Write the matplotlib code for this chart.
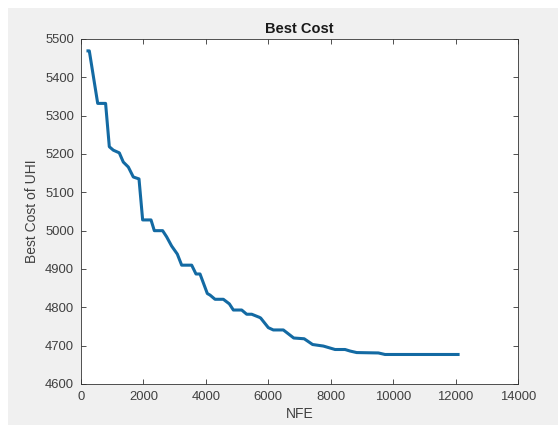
import matplotlib.pyplot as plt
from matplotlib.patches import Rectangle

# best cost trace
nfe = [224, 266, 535, 788, 907, 1035, 1227, 1355, 1516, 1676, 1858, 1975, 2243,
       2349, 2615, 2743, 2903, 3085, 3225, 3546, 3684, 3813, 4047, 4133, 4294,
       4560, 4753, 4881, 5148, 5308, 5469, 5713, 5757, 6001, 6161, 6482, 6815,
       7150, 7420, 7764, 8139, 8459, 8619, 8833, 9527, 9740, 12080]
cost = [5469, 5469, 5332, 5332, 5219, 5210, 5203, 5179, 5166, 5140, 5135, 5028, 5028,
        5000, 5000, 4984, 4960, 4939, 4910, 4910, 4887, 4887, 4836, 4832, 4821,
        4821, 4809, 4793, 4793, 4782, 4782, 4774, 4772, 4747, 4741, 4741, 4720,
        4718, 4703, 4699, 4690, 4690, 4686, 4682, 4681, 4677, 4677]

xticks = [0, 2000, 4000, 6000, 8000, 10000, 12000, 14000]
yticks = [4600, 4700, 4800, 4900, 5000, 5100, 5200, 5300, 5400, 5500]

plt.rcParams['font.family'] = ['Liberation Sans', 'DejaVu Sans']

fig = plt.figure(figsize=(5.58, 4.25), dpi=100)
fig.patch.set_facecolor('white')
fig.patches.append(Rectangle((8/558, 0), 1 - 8/558, 1 - 8/425,
                             transform=fig.transFigure, facecolor='#f0f0f0',
                             edgecolor='none', zorder=-1))

ax = fig.add_axes([81/558, 1 - 384/425, (518 - 81)/558, (384 - 39)/425])
ax.set_facecolor('white')
ax.plot(nfe, cost, color='#136aa3', linewidth=2.2)

ax.set_xlim(0, 14000)
ax.set_ylim(4600, 5500)
ax.set_xticks(xticks)
ax.set_yticks(yticks)
ax.tick_params(direction='in', top=True, right=True, length=3.5, width=0.6,
               color='#333333', labelcolor='#404040', labelsize=9.4, pad=5)
for s in ax.spines.values():
    s.set_color('#333333')
    s.set_linewidth(0.6)

ax.set_title('Best Cost', fontsize=10.5, fontweight='bold', color='#1a1a1a', pad=4)
ax.set_xlabel('NFE', fontsize=10, color='#404040', labelpad=3)
ax.set_ylabel('Best Cost of UHI', fontsize=10, color='#404040', labelpad=4)

fig.savefig('out.png', dpi=100)
